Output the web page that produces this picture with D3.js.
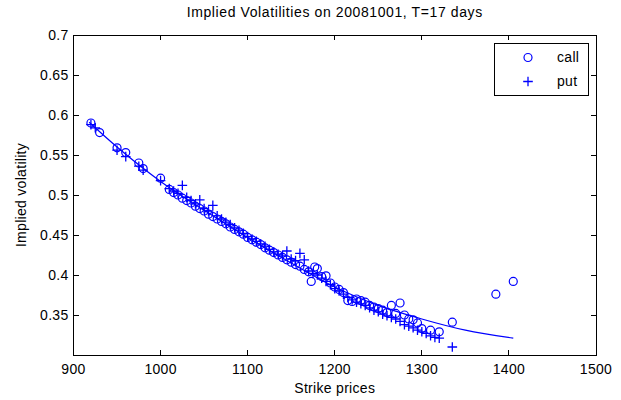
<!DOCTYPE html>
<html>
<head>
<meta charset="utf-8">
<script src="https://cdn.jsdelivr.net/npm/d3@7/dist/d3.min.js"></script>
<style>
  html, body { margin: 0; padding: 0; background: #fff; }
  svg { display: block; font-family: Arial, "Liberation Sans", sans-serif; }
</style>
</head>
<body>
<div id="chart"></div>
<script>
// Implied volatility smile.
var callStrikes = [920, 930, 950, 960, 975, 980, 1000, 1010, 1015, 1020, 1025, 1030, 1035, 1040, 1045,
  1050, 1055, 1060, 1065, 1070, 1075, 1080, 1085, 1090, 1095, 1100, 1105, 1110, 1115, 1120, 1125,
  1130, 1135, 1140, 1145, 1150, 1155, 1160, 1165, 1170, 1173, 1177, 1180, 1185, 1190, 1195, 1200,
  1205, 1210, 1215, 1220, 1225, 1230, 1235, 1240, 1245, 1250, 1255, 1260, 1265, 1270, 1275, 1280,
  1285, 1290, 1295, 1300, 1310, 1320, 1335, 1385, 1405];
var callIV = [0.590, 0.578, 0.559, 0.553, 0.540, 0.533, 0.521, 0.507, 0.503, 0.500, 0.496, 0.493, 0.490, 0.486, 0.483,
  0.480, 0.476, 0.473, 0.470, 0.467, 0.464, 0.460, 0.457, 0.454, 0.451, 0.447, 0.444, 0.441, 0.438, 0.434, 0.431,
  0.428, 0.425, 0.422, 0.419, 0.416, 0.413, 0.411, 0.407, 0.404, 0.392, 0.410, 0.408, 0.398, 0.399, 0.390, 0.385,
  0.382, 0.378, 0.368, 0.367, 0.370, 0.368, 0.366, 0.362, 0.360, 0.358, 0.356, 0.353, 0.362, 0.352, 0.365, 0.350,
  0.345, 0.344, 0.340, 0.333, 0.331, 0.329, 0.341, 0.376, 0.392];

var putStrikes = [920, 925, 950, 960, 975, 980, 1000, 1010, 1015, 1020, 1025, 1030, 1035, 1040, 1045,
  1050, 1055, 1060, 1065, 1070, 1075, 1080, 1085, 1090, 1095, 1100, 1105, 1110, 1115, 1120, 1125,
  1130, 1135, 1140, 1145, 1150, 1155, 1160, 1165, 1170, 1175, 1180, 1185, 1190, 1195, 1200,
  1205, 1210, 1215, 1220, 1225, 1230, 1235, 1240, 1245, 1250, 1255, 1260, 1265, 1270, 1275, 1280,
  1285, 1290, 1295, 1300, 1305, 1310, 1315, 1320, 1335];
var putIV = [0.588, 0.584, 0.556, 0.548, 0.536, 0.531, 0.518, 0.508, 0.505, 0.502, 0.512, 0.497, 0.493, 0.489, 0.494,
  0.483, 0.480, 0.487, 0.474, 0.470, 0.466, 0.463, 0.459, 0.456, 0.452, 0.448, 0.445, 0.442, 0.439, 0.436, 0.432,
  0.429, 0.426, 0.424, 0.430, 0.420, 0.418, 0.427, 0.419, 0.405, 0.402, 0.400, 0.396, 0.392, 0.388, 0.383,
  0.380, 0.376, 0.372, 0.369, 0.366, 0.364, 0.362, 0.359, 0.356, 0.354, 0.351, 0.349, 0.347, 0.345, 0.342, 0.338,
  0.336, 0.334, 0.331, 0.329, 0.327, 0.324, 0.322, 0.321, 0.310];

// fitted smile curve
var fitStrikes = [918, 950, 1000, 1050, 1100, 1150, 1200, 1250, 1300, 1350, 1405];
var fitIV = [0.591, 0.560, 0.517, 0.481, 0.447, 0.415, 0.385, 0.362, 0.345, 0.331, 0.321];

var xTicks = [900, 1000, 1100, 1200, 1300, 1400, 1500];
var yTicks = [0.35, 0.4, 0.45, 0.5, 0.55, 0.6, 0.65, 0.7];
var legendLabels = ['call', 'put'];

var W = 621, H = 400;
var LEFT = 73.5, RIGHT = 596, TOP = 35, BOTTOM = 355;
var BLUE = '#0000ff';
var TICK = 5;
var MARK_R = 4;
var PLUS = 4.8;

var svg = d3.select('#chart').append('svg')
  .attr('width', W)
  .attr('height', H);

svg.append('rect').attr('width', W).attr('height', H).attr('fill', '#fff');

var x = d3.scaleLinear().domain([900, 1500]).range([LEFT, RIGHT]);
var y = d3.scaleLinear().domain([0.3, 0.7]).range([BOTTOM, TOP]);

var plot = svg.append('g');

// fitted line
var line = d3.line()
  .x(function(d, i) { return x(fitStrikes[i]); })
  .y(function(d) { return y(d); })
  .curve(d3.curveMonotoneX);

plot.append('path')
  .attr('d', line(fitIV))
  .attr('fill', 'none')
  .attr('stroke', BLUE)
  .attr('stroke-width', 1.2);

// call markers (circles)
plot.selectAll('circle.call')
  .data(callStrikes)
  .enter().append('circle')
  .attr('class', 'call')
  .attr('cx', function(d) { return x(d); })
  .attr('cy', function(d, i) { return y(callIV[i]); })
  .attr('r', MARK_R)
  .attr('fill', 'none')
  .attr('stroke', BLUE)
  .attr('stroke-width', 1.2);

// put markers (plus signs)
function plusPath(cx, cy, s) {
  return 'M' + (cx - s) + ',' + cy + 'H' + (cx + s) + 'M' + cx + ',' + (cy - s) + 'V' + (cy + s);
}

plot.selectAll('path.put')
  .data(putStrikes)
  .enter().append('path')
  .attr('class', 'put')
  .attr('d', function(d, i) { return plusPath(x(d), y(putIV[i]), PLUS); })
  .attr('fill', 'none')
  .attr('stroke', BLUE)
  .attr('stroke-width', 1.3);

// axes box with inward ticks (matlab style)
var axisG = svg.append('g')
  .attr('fill', 'none')
  .attr('stroke', '#000')
  .attr('stroke-width', 1)
  .attr('shape-rendering', 'crispEdges');

axisG.append('rect')
  .attr('x', LEFT).attr('y', TOP)
  .attr('width', RIGHT - LEFT).attr('height', BOTTOM - TOP);

xTicks.forEach(function(t) {
  axisG.append('line').attr('x1', x(t)).attr('x2', x(t)).attr('y1', BOTTOM).attr('y2', BOTTOM - TICK);
  axisG.append('line').attr('x1', x(t)).attr('x2', x(t)).attr('y1', TOP).attr('y2', TOP + TICK);
});
yTicks.forEach(function(t) {
  axisG.append('line').attr('x1', LEFT).attr('x2', LEFT + TICK).attr('y1', y(t)).attr('y2', y(t));
  axisG.append('line').attr('x1', RIGHT).attr('x2', RIGHT - TICK).attr('y1', y(t)).attr('y2', y(t));
});

var txt = svg.append('g').attr('fill', '#000').attr('font-size', '14px').attr('letter-spacing', '0.3px');

txt.selectAll('text.xt')
  .data(xTicks)
  .enter().append('text')
  .attr('x', function(d) { return x(d); })
  .attr('y', BOTTOM + 19)
  .attr('text-anchor', 'middle')
  .text(function(d) { return d; });

txt.selectAll('text.yt')
  .data(yTicks)
  .enter().append('text')
  .attr('x', LEFT - 5)
  .attr('y', function(d) { return y(d); })
  .attr('dy', '0.35em')
  .attr('text-anchor', 'end')
  .text(function(d) { return d3.format('')(+d.toFixed(2)); });

txt.append('text')
  .attr('x', (LEFT + RIGHT) / 2)
  .attr('y', 393)
  .attr('text-anchor', 'middle')
  .text('Strike prices');

txt.append('text')
  .attr('transform', 'translate(26,' + ((TOP + BOTTOM) / 2) + ') rotate(-90)')
  .attr('text-anchor', 'middle')
  .text('Implied volatility');

txt.append('text')
  .attr('x', (LEFT + RIGHT) / 2)
  .attr('y', 17)
  .attr('text-anchor', 'middle')
  .attr('letter-spacing', '0.6px')
  .text('Implied Volatilities on 20081001, T=17 days');

// legend
var leg = svg.append('g');
leg.append('rect')
  .attr('x', 494).attr('y', 43)
  .attr('width', 94).attr('height', 52)
  .attr('fill', '#fff')
  .attr('stroke', '#000')
  .attr('shape-rendering', 'crispEdges');

leg.append('circle')
  .attr('cx', 528).attr('cy', 57.5).attr('r', MARK_R)
  .attr('fill', 'none').attr('stroke', BLUE).attr('stroke-width', 1.2);
leg.append('path')
  .attr('d', plusPath(528, 81.5, PLUS))
  .attr('fill', 'none').attr('stroke', BLUE).attr('stroke-width', 1.3);

leg.selectAll('text')
  .data(legendLabels)
  .enter().append('text')
  .attr('x', 557)
  .attr('y', function(d, i) { return 57.5 + i * 24; })
  .attr('dy', '0.35em')
  .attr('font-size', '14px')
  .attr('letter-spacing', '0.3px')
  .text(function(d) { return d; });
</script>
</body>
</html>
